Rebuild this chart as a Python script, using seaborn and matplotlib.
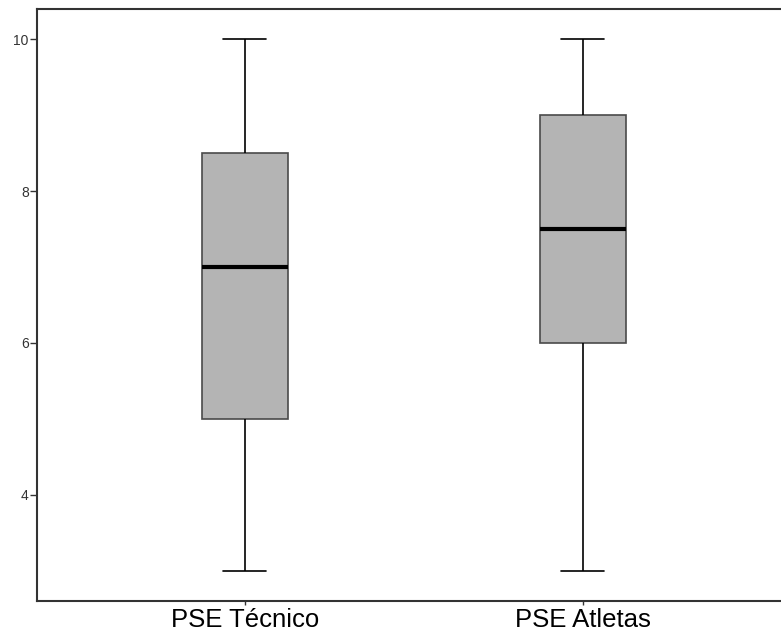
import matplotlib
matplotlib.use("Agg")
import matplotlib.pyplot as plt
import seaborn as sns
import pandas as pd

categories = ["PSE Técnico", "PSE Atletas"]
# five-number summaries (min, Q1, median, Q3, max)
tecnico = [3, 5, 7, 8.5, 10]
atletas = [3, 6, 7.5, 9, 10]
yticks = [4, 6, 8, 10]

df = pd.DataFrame({
    "grupo": [categories[0]] * len(tecnico) + [categories[1]] * len(atletas),
    "valor": tecnico + atletas,
})

sns.set_theme(style="white")
plt.rcParams["font.family"] = ["Liberation Sans", "DejaVu Sans"]

fig = plt.figure(figsize=(7.81, 6.31), dpi=100)
ax = fig.add_axes([37 / 781, 30 / 631, 744 / 781, 592 / 631])

sns.boxplot(
    data=df, x="grupo", y="valor", order=categories, ax=ax,
    width=0.255, color="#b4b4b4", whis=1.5,
    boxprops=dict(facecolor="#b4b4b4", edgecolor="#4a4a4a", linewidth=1.2),
    medianprops=dict(color="black", linewidth=3),
    whiskerprops=dict(color="black", linewidth=1.2),
    capprops=dict(color="black", linewidth=1.2),
    showfliers=False,
)

ax.set_xlim(-0.615, 1.586)
ax.set_ylim(2.605, 10.395)
ax.set_yticks(yticks)
ax.set_yticklabels([str(t) for t in yticks], fontsize=10, color="#333333")
ax.set_xticks([0, 1])
ax.set_xticklabels(categories, fontsize=18.5, color="black")
ax.set_xlabel("")
ax.set_ylabel("")

for side in ["left", "top", "bottom"]:
    ax.spines[side].set_visible(True)
    ax.spines[side].set_color("#333333")
    ax.spines[side].set_linewidth(1.5)
ax.spines["right"].set_visible(False)

ax.tick_params(axis="y", left=True, length=5, width=1, color="#333333", pad=1)
ax.tick_params(axis="x", bottom=True, length=3, width=1, color="#333333", pad=2)

fig.savefig("out.png", dpi=100)
